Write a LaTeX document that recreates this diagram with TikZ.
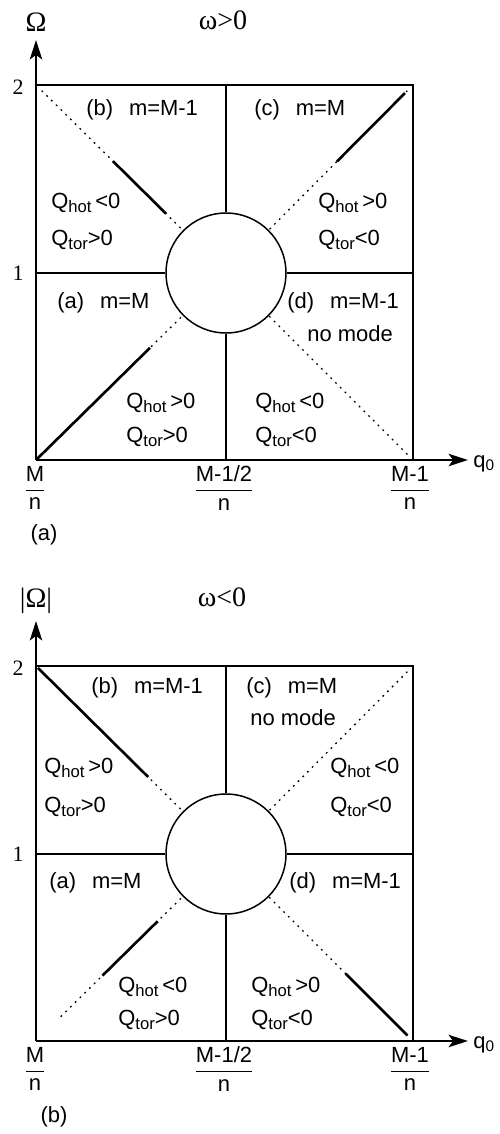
\documentclass[tikz,border=0pt]{standalone}
\usepackage{fontspec}
\setmainfont{Liberation Serif}
\setsansfont{Liberation Sans}
\usetikzlibrary{arrows.meta, calc}
\newcommand{\Qs}[1]{Q\raisebox{-0.4ex}{\fontsize{9.5}{10}\selectfont #1}}

\begin{document}
\begin{tikzpicture}[
    x=0.02cm, y=-0.02cm,
    lbl/.style={font=\sffamily\fontsize{12.5}{14}\selectfont, anchor=west, inner sep=0pt},
    frac/.style={font=\sffamily\fontsize{12.5}{14}\selectfont, inner sep=0pt},
    tick/.style={font=\fontsize{12.5}{14}\selectfont, inner sep=0pt},
    head/.style={font=\fontsize{16}{18}\selectfont, inner sep=0pt},
    axis/.style={line width=1.4pt, -{Stealth[length=11pt,width=7pt,inset=2.5pt]}},
    frame/.style={line width=1.4pt},
    sep/.style={line width=0.85pt},
    guide/.style={line width=0.75pt, dash pattern=on 1pt off 2.8pt},
    mode/.style={line width=1.5pt},
    hole/.style={circle, draw, line width=0.85pt, minimum size=2.4cm, inner sep=0pt}
]
    \useasboundingbox (0,0) rectangle (500,1134);

    % ---------- panel (a): omega > 0 ----------
    \begin{scope}
    \coordinate (a-o)   at (36,460);
    \coordinate (a-tl)  at (36,85);
    \coordinate (a-tr)  at (413,85);
    \coordinate (a-br)  at (413,460);
    \coordinate (a-top) at (226,85);
    \coordinate (a-bot) at (226,460);
    \coordinate (a-lft) at (36,273);
    \coordinate (a-rgt) at (413,273);
    \coordinate (a-yend) at (36,40);
    \coordinate (a-xend) at (468,460);
    \node[hole] (a-hole) at (226,273) {};

    \draw[axis] (a-o) -- (a-yend);
    \draw[axis] (a-o) -- (a-xend);
    \draw[frame] (a-tl) -- (a-tr) -- (a-br);
    \draw[sep] (a-top) -- (a-hole);
    \draw[sep] (a-bot) -- (a-hole);
    \draw[sep] (a-lft) -- (a-hole);
    \draw[sep] (a-rgt) -- (a-hole);

    \draw[guide] ($(a-tl)!0.03!(a-hole.center)$) -- (a-hole);
    \draw[guide] ($(a-tr)!0.03!(a-hole.center)$) -- (a-hole);
    \draw[guide] ($(a-o)!0.03!(a-hole.center)$) -- (a-hole);
    \draw[guide] ($(a-br)!0.03!(a-hole.center)$) -- (a-hole);

    \draw[mode] ($(a-tl)!0.405!(a-hole.center)$) -- ($(a-tl)!0.684!(a-hole.center)$);
    \draw[mode] ($(a-tr)!0.043!(a-hole.center)$) -- ($(a-tr)!0.406!(a-hole.center)$);
    \draw[mode] ($(a-o)!0.005!(a-hole.center)$) -- ($(a-o)!0.6!(a-hole.center)$);

    \node[head] (a-Om)    at (36,22)  {Ω};
    \node[head] (a-title) at (223,20) {ω>0};
    \node[tick] (a-two)   at (18,87)  {2};
    \node[tick] (a-one)   at (18,273) {1};
    \node[lbl, anchor=base west] (a-q) at (473,467) {q\textsubscript{0}};
    \node[frac] (a-f0) at (35,488)  {$\displaystyle\frac{\textsf{M}}{\textsf{n}}$};
    \node[frac] (a-f1) at (224,488) {$\displaystyle\frac{\textsf{M-1/2}}{\textsf{n}}$};
    \node[frac] (a-f2) at (410,488) {$\displaystyle\frac{\textsf{M-1}}{\textsf{n}}$};
    \node[lbl, anchor=center] (a-cap) at (44,535) {(a)};

    \node[lbl] (a-lb) at (86,110)  {(b)\hspace{9pt}m=M-1};
    \node[lbl] (a-lc) at (254,110) {(c)\hspace{9pt}m=M};
    \node[lbl] (a-la) at (57,303)  {(a)\hspace{9pt}m=M};
    \node[lbl] (a-ld) at (287,303) {(d)\hspace{9pt}m=M-1};
    \node[lbl] (a-nm) at (307,334) {no mode};

    \node[lbl] (a-hb) at (51,203)  {\Qs{hot}\,<0};
    \node[lbl] (a-tb) at (51,240)  {\Qs{tor}>0};
    \node[lbl] (a-hc) at (318,203) {\Qs{hot}\,>0};
    \node[lbl] (a-tc) at (318,240) {\Qs{tor}<0};
    \node[lbl] (a-ha) at (126,403) {\Qs{hot}\,>0};
    \node[lbl] (a-ta) at (126,437) {\Qs{tor}>0};
    \node[lbl] (a-hd) at (255,403) {\Qs{hot}\,<0};
    \node[lbl] (a-td) at (255,437) {\Qs{tor}<0};
    \end{scope}

    % ---------- panel (b): omega < 0 ----------
    \begin{scope}[shift={(0,581)}]
    \coordinate (b-o)   at (36,460);
    \coordinate (b-tl)  at (36,85);
    \coordinate (b-tr)  at (413,85);
    \coordinate (b-br)  at (413,460);
    \coordinate (b-top) at (226,85);
    \coordinate (b-bot) at (226,460);
    \coordinate (b-lft) at (36,273);
    \coordinate (b-rgt) at (413,273);
    \coordinate (b-yend) at (36,40);
    \coordinate (b-xend) at (468,460);
    \node[hole] (b-hole) at (226,273) {};

    \draw[axis] (b-o) -- (b-yend);
    \draw[axis] (b-o) -- (b-xend);
    \draw[frame] (b-tl) -- (b-tr) -- (b-br);
    \draw[sep] (b-top) -- (b-hole);
    \draw[sep] (b-bot) -- (b-hole);
    \draw[sep] (b-lft) -- (b-hole);
    \draw[sep] (b-rgt) -- (b-hole);

    \draw[guide] ($(b-tl)!0.03!(b-hole.center)$) -- (b-hole);
    \draw[guide] ($(b-tr)!0.03!(b-hole.center)$) -- (b-hole);
    \draw[guide] ($(b-o)!0.13!(b-hole.center)$) -- (b-hole);
    \draw[guide] ($(b-br)!0.03!(b-hole.center)$) -- (b-hole);

    \draw[mode] ($(b-tl)!0.01!(b-hole.center)$) -- ($(b-tl)!0.59!(b-hole.center)$);
    \draw[mode] ($(b-o)!0.35!(b-hole.center)$) -- ($(b-o)!0.64!(b-hole.center)$);
    \draw[mode] ($(b-br)!0.03!(b-hole.center)$) -- ($(b-br)!0.36!(b-hole.center)$);

    \node[head] (b-Om)    at (36,20)  {|Ω|};
    \node[head] (b-title) at (222,16) {ω<0};
    \node[tick] (b-two)   at (18,87)  {2};
    \node[tick] (b-one)   at (18,273) {1};
    \node[lbl, anchor=base west] (b-q) at (473,467) {q\textsubscript{0}};
    \node[frac] (b-f0) at (35,488)  {$\displaystyle\frac{\textsf{M}}{\textsf{n}}$};
    \node[frac] (b-f1) at (224,488) {$\displaystyle\frac{\textsf{M-1/2}}{\textsf{n}}$};
    \node[frac] (b-f2) at (410,488) {$\displaystyle\frac{\textsf{M-1}}{\textsf{n}}$};
    \node[lbl, anchor=center] (b-cap) at (54,536) {(b)};

    \node[lbl] (b-lb) at (91,107)  {(b)\hspace{9pt}m=M-1};
    \node[lbl] (b-lc) at (246,107) {(c)\hspace{9pt}m=M};
    \node[lbl] (b-nm) at (250,137) {no mode};
    \node[lbl] (b-la) at (49,302)  {(a)\hspace{9pt}m=M};
    \node[lbl] (b-ld) at (289,302) {(d)\hspace{9pt}m=M-1};

    \node[lbl] (b-hb) at (44,187)  {\Qs{hot}\,>0};
    \node[lbl] (b-tb) at (44,226)  {\Qs{tor}>0};
    \node[lbl] (b-hc) at (330,187) {\Qs{hot}\,<0};
    \node[lbl] (b-tc) at (330,226) {\Qs{tor}<0};
    \node[lbl] (b-ha) at (118,406) {\Qs{hot}\,<0};
    \node[lbl] (b-ta) at (118,439) {\Qs{tor}>0};
    \node[lbl] (b-hd) at (251,406) {\Qs{hot}\,>0};
    \node[lbl] (b-td) at (251,439) {\Qs{tor}<0};
    \end{scope}
\end{tikzpicture}
\end{document}
